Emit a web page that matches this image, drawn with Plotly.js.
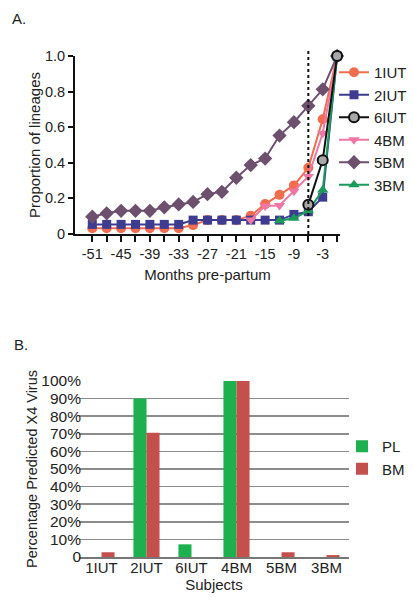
<!DOCTYPE html>
<html><head><meta charset="utf-8">
<script src="https://cdn.plot.ly/plotly-3.0.1.min.js"></script>
<style>html,body{margin:0;padding:0;background:#fff}#chart{width:413px;height:600px}</style>
</head><body><div id="chart"></div>
<script>
// Panel A data: months pre-partum and proportion of lineages
const months = [-51,-48,-45,-42,-39,-36,-33,-30,-27,-24,-21,-18,-15,-12,-9,-6,-3,0];
const iut1 = [0.032,0.032,0.032,0.032,0.032,0.032,0.032,0.05,0.078,0.078,0.078,0.103,0.168,0.22,0.273,0.372,0.645,1.0];
const iut2 = [0.054,0.054,0.054,0.054,0.054,0.054,0.054,0.078,0.078,0.078,0.078,0.078,0.078,0.078,0.11,0.125,0.207,1.0];
const months6IUT = [-6,-3,0];
const iut6 = [0.165,0.415,1.0];
const months4BM = [-18,-15,-12,-9,-6,-3,0];
const bm4 = [0.078,0.158,0.16,0.24,0.323,0.566,1.0];
const bm5 = [0.097,0.116,0.13,0.13,0.13,0.15,0.166,0.18,0.224,0.237,0.316,0.387,0.424,0.553,0.628,0.72,0.813,1.0];
const months3BM = [-12,-9,-6,-3,0];
const bm3 = [0.075,0.088,0.13,0.247,1.0];
const birthLine = -6;
const xTickVals = [-51,-48,-45,-42,-39,-36,-33,-30,-27,-24,-21,-18,-15,-12,-9,-6,-3,0];
const xTickText = ['-51','','-45','','-39','','-33','','-27','','-21','','-15','','-9','','-3',''];

// Panel B data
const subjects = ['1IUT','2IUT','6IUT','4BM','5BM','3BM'];
const plPct = [0,90,7.2,100,0,0];
const bmPct = [2.7,70.6,0,100,2.7,1.1];
const pctTickVals = [0,10,20,30,40,50,60,70,80,90,100];
const pctTickText = ['0','10%','20%','30%','40%','50%','60%','70%','80%','90%','100%'];

const F = 'Liberation Sans, Arial, Helvetica, sans-serif';

function line(name, rank, x, y, color, symbol, size, fill, lineCol) {
  return {type:'scatter', mode:'lines+markers', name:name, legendrank:rank, x:x, y:y, xaxis:'x', yaxis:'y', legend:'legend',
    cliponaxis:false,
    line:{color:lineCol||color, width:2},
    marker:{symbol:symbol, size:size, color:fill||color, line:{color:lineCol||color, width: fill?2:0}}};
}

const traces = [
  line('1IUT', 1, months, iut1, '#F26C4F', 'circle', 10),
  line('2IUT', 2, months, iut2, '#3D3C91', 'square', 9),
  line('4BM', 4, months4BM, bm4, '#EE77A4', 'triangle-down', 10),
  line('5BM', 5, months, bm5, '#6D4F6E', 'diamond', 11),
  line('3BM', 6, months3BM, bm3, '#1B9A5B', 'triangle-up', 10),
  line('6IUT', 3, months6IUT, iut6, '#111111', 'circle', 10, '#a8a8a8', '#111111'),
  {type:'bar', name:'PL', x:subjects, y:plPct, xaxis:'x2', yaxis:'y2', legend:'legend2', marker:{color:'#1DB04F'}},
  {type:'bar', name:'BM', x:subjects, y:bmPct, xaxis:'x2', yaxis:'y2', legend:'legend2', marker:{color:'#C4504D'}}
];

const W=413, H=600;
const layout = {
  width:W, height:H, margin:{l:0,r:0,t:0,b:0},
  paper_bgcolor:'#fff', plot_bgcolor:'rgba(0,0,0,0)',
  font:{family:F, size:14, color:'#222'},
  bargap:0.42, bargroupgap:0,
  xaxis:{domain:[75/W,340/W], range:[-54.6,0.6], anchor:'y', tickvals:xTickVals, ticktext:xTickText,
    ticks:'outside', ticklen:6, tickwidth:2, tickcolor:'#111', showline:true, linewidth:2, linecolor:'#111',
    showgrid:false, zeroline:false, tickfont:{size:14.5, color:'#222'},
    title:{text:'Months pre-partum', font:{size:15, color:'#222'}, standoff:8}},
  yaxis:{domain:[(H-234)/H,(H-56)/H], range:[0,1], anchor:'x', tickvals:[0,0.2,0.4,0.6,0.8,1.0],
    ticktext:['0','0.2','0.4','0.6','0.8','1.0'], ticks:'outside', ticklen:5, tickwidth:2, tickcolor:'#111',
    showline:true, linewidth:2, linecolor:'#111', showgrid:false, zeroline:false, tickfont:{size:14.5, color:'#222'},
    title:{text:'Proportion of lineages', font:{size:15, color:'#222'}, standoff:1}},
  xaxis2:{domain:[79/W,349/W], anchor:'y2', type:'category', showline:true, linewidth:1.5, linecolor:'#777',
    ticks:'', showgrid:false, tickfont:{size:15, color:'#222'}, ticklabelstandoff:-4,
    title:{text:'Subjects', font:{size:15, color:'#222'}, standoff:4}},
  yaxis2:{domain:[(H-557)/H,(H-381)/H], range:[0,100], anchor:'x2', tickvals:pctTickVals, ticktext:pctTickText,
    showgrid:true, gridcolor:'#8c8c8c', gridwidth:1.5, zeroline:false, showline:false, ticks:'',
    tickfont:{size:15.5, color:'#222'}, ticklabelstandoff:-3,
    title:{text:'Percentage Predicted X4 Virus', font:{size:14.5, color:'#222'}, standoff:0}},
  legend:{x:334/W, y:(H-56)/H, xanchor:'left', yanchor:'top', bgcolor:'rgba(0,0,0,0)',
    font:{size:15, color:'#222'}, itemwidth:30, tracegroupgap:0},
  legend2:{x:342/W, y:(H-430)/H, xanchor:'left', yanchor:'top', bgcolor:'rgba(0,0,0,0)',
    font:{size:15, color:'#222'}, itemwidth:30},
  shapes:[{type:'line', xref:'x', yref:'paper', x0:birthLine, x1:birthLine, y0:(H-234)/H, y1:(H-48)/H,
    line:{color:'#111', width:2, dash:'dot'}}],
  annotations:[
    {text:'A.', xref:'paper', yref:'paper', x:10/W, y:(H-8)/H, xanchor:'left', yanchor:'top', showarrow:false, font:{size:15, color:'#222'}},
    {text:'B.', xref:'paper', yref:'paper', x:12/W, y:(H-334)/H, xanchor:'left', yanchor:'top', showarrow:false, font:{size:15, color:'#222'}}
  ]
};

Plotly.newPlot('chart', traces, layout, {displayModeBar:false, staticPlot:true});
</script></body></html>
